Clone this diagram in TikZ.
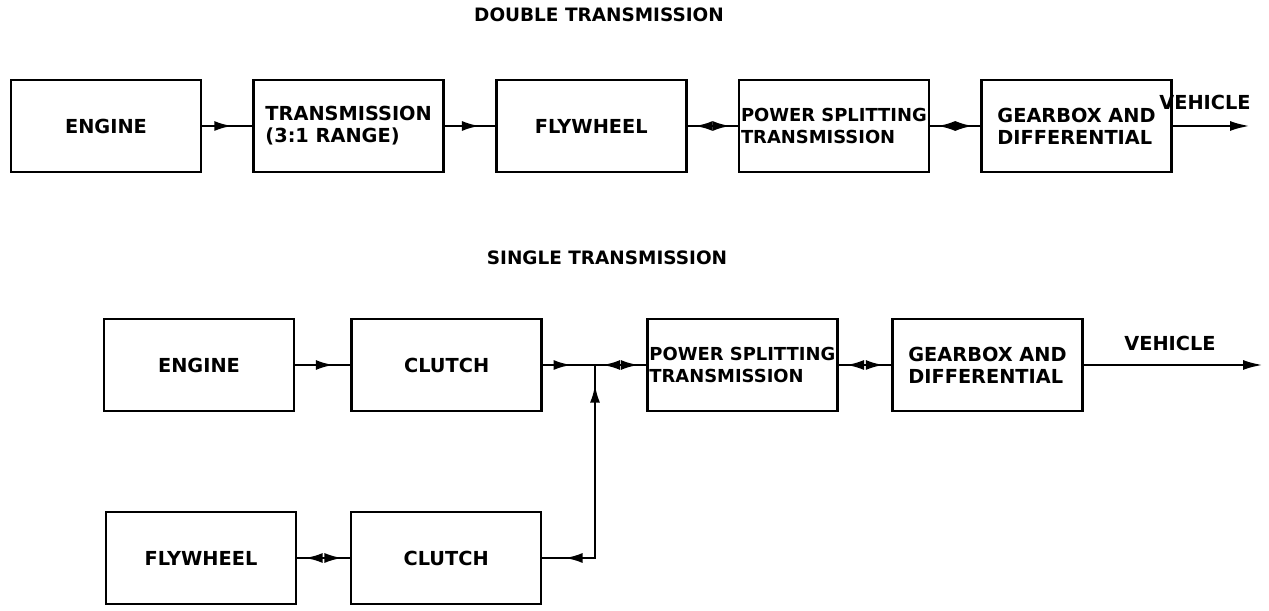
\documentclass[tikz,border=0pt]{standalone}
\usepackage{fontspec}
\setmainfont{DejaVu Sans}
\usetikzlibrary{arrows.meta,positioning,decorations.markings}
\tikzset{
  flowtip/.tip={Latex[length=3.6mm, width=2mm]},
  unit/.style={draw, line width=1.5pt, align=left, font=\fontsize{11}{12.5}\selectfont\bfseries,
    minimum width=3.8cm, minimum height=1.84cm, inner sep=2pt},
  tight/.style={inner xsep=0pt, font=\fontsize{10.2}{12.5}\selectfont\bfseries},
  heading/.style={font=\fontsize{10.5}{12}\selectfont\bfseries},
  oneway/.style={line width=1.5pt, postaction={decorate,
    decoration={markings, mark=at position #1 with {\arrow{flowtip}}}}},
  oneway/.default=0.65,
  twoway/.style={line width=1.5pt, postaction={decorate,
    decoration={markings,
      mark=at position 0.14 with {\arrowreversed{flowtip}},
      mark=at position 0.86 with {\arrow{flowtip}}}}},
  output/.style={line width=1.5pt, -{Latex[length=4mm, width=2mm]}}
}
\begin{document}
\begin{tikzpicture}[node distance=1cm]
  \useasboundingbox (0,0) rectangle (25.38,12.22);

  % double transmission
  \node[heading] (titleA) at (11.98,11.92) {DOUBLE TRANSMISSION};
  \node[unit] (engineA) at (2.12,9.70) {ENGINE};
  \node[unit, right=of engineA] (transA) {TRANSMISSION\\(3:1 RANGE)};
  \node[unit, right=of transA] (flyA) {FLYWHEEL};
  \node[unit, tight, right=of flyA] (splitA) {POWER SPLITTING\\TRANSMISSION};
  \node[unit, right=of splitA] (gearA) {GEARBOX AND\\DIFFERENTIAL};
  \coordinate (vehA) at (25.0,9.70);
  \node[font=\fontsize{11}{12.5}\selectfont\bfseries] (vehlabelA) at (24.1,10.18) {VEHICLE};

  \draw[oneway=0.6] (engineA) -- (transA);
  \draw[oneway=0.7] (transA) -- (flyA);
  \draw[twoway] (flyA) -- (splitA);
  \draw[twoway] (splitA) -- (gearA);
  \draw[output] (gearA) -- (vehA);

  % single transmission
  \node[heading] (titleB) at (12.14,7.06) {SINGLE TRANSMISSION};
  \node[unit] (engineB) at (3.98,4.92) {ENGINE};
  \node[unit, right=1.1cm of engineB] (clutchB) {CLUTCH};
  \coordinate (join) at (11.9,4.92);
  \node[unit, tight, anchor=west] (splitB) at (12.92,4.92) {POWER SPLITTING\\TRANSMISSION};
  \node[unit, right=1.05cm of splitB] (gearB) {GEARBOX AND\\DIFFERENTIAL};
  \coordinate (vehB) at (25.26,4.92);
  \node[font=\fontsize{11}{12.5}\selectfont\bfseries] (vehlabelB) at (23.4,5.36) {VEHICLE};
  \node[unit] (flyB) at (4.02,1.06) {FLYWHEEL};
  \node[unit, right=1.05cm of flyB] (clutchC) {CLUTCH};
  \coordinate (bend) at (join |- clutchC);

  \draw[oneway=0.7] (engineB) -- (clutchB);
  \draw[oneway=0.55] (clutchB) -- (join);
  \draw[twoway] (join) -- (splitB);
  \draw[twoway] (splitB) -- (gearB);
  \draw[output] (gearB) -- (vehB);
  \draw[twoway] (flyB) -- (clutchC);
  \draw[line width=1.5pt, postaction={decorate, decoration={markings,
      mark=at position 0.09 with {\arrowreversed{flowtip}},
      mark=at position 0.92 with {\arrow{flowtip}}}}]
    (clutchC) -- (bend) -- (join);
\end{tikzpicture}
\end{document}
